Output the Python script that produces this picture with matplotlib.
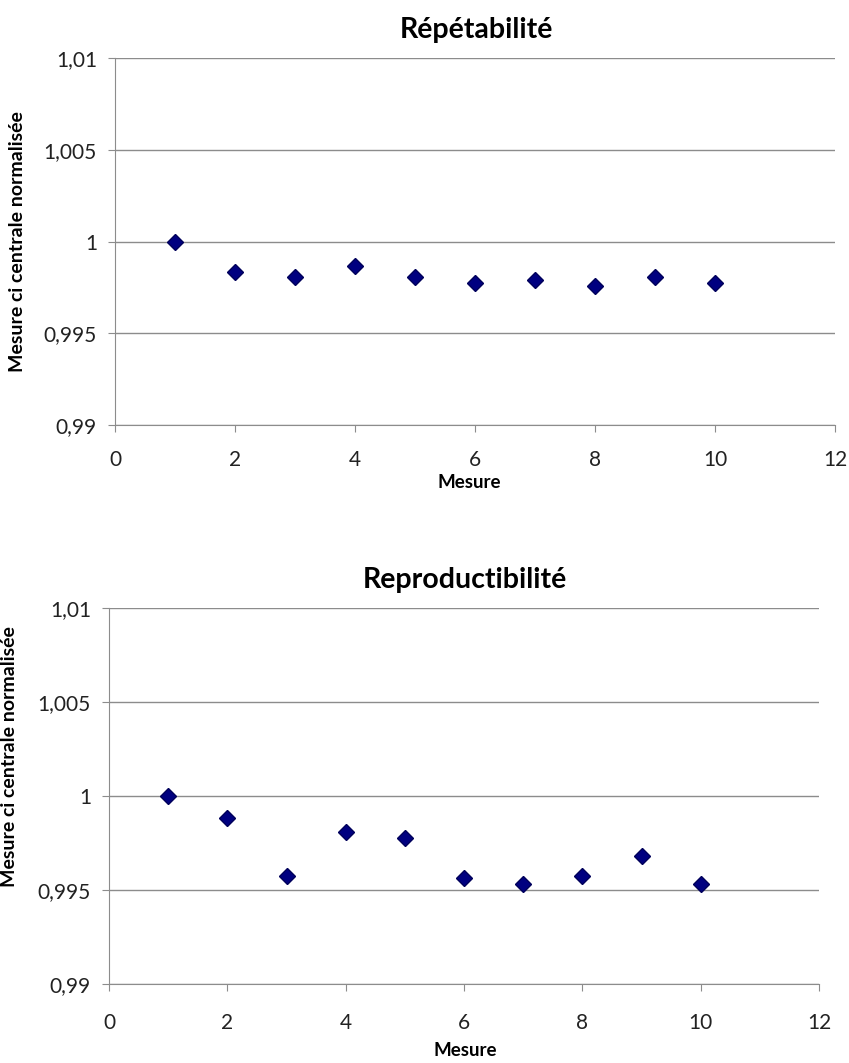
import matplotlib.pyplot as plt

# Data
mesure = [1, 2, 3, 4, 5, 6, 7, 8, 9, 10]
repetabilite = [1.0, 0.99833, 0.99805, 0.99869, 0.99805, 0.99776, 0.99791, 0.9976, 0.99805, 0.99776]
reproductibilite = [1.0, 0.99884, 0.99577, 0.99807, 0.99777, 0.99562, 0.9953, 0.99577, 0.99682, 0.9953]

x_ticks = [0, 2, 4, 6, 8, 10, 12]
y_ticks = [0.99, 0.995, 1.0, 1.005, 1.01]
y_labels = ["0,99", "0,995", "1", "1,005", "1,01"]

plt.rcParams['font.family'] = ['Lato', 'DejaVu Sans']

W, H = 849, 1063
fig = plt.figure(figsize=(W / 100, H / 100), dpi=100)


def panel(rect, values, title, title_x, xlabel_pos, ylabel_pos, xpad):
    left, top, right, bottom = rect
    ax = fig.add_axes([left / W, 1 - bottom / H, (right - left) / W, (bottom - top) / H])
    ax.plot(mesure, values, linestyle="none", marker="D", markersize=8.5,
            markerfacecolor="#000080", markeredgecolor="#00005a", zorder=3)
    ax.set_xlim(0, 12)
    ax.set_ylim(0.99, 1.01)
    ax.set_xticks(x_ticks)
    ax.set_yticks(y_ticks)
    ax.set_yticklabels(y_labels)
    ax.grid(axis="y", color="#8c8c8c", linewidth=1)
    ax.set_axisbelow(True)
    for s in ["top", "right"]:
        ax.spines[s].set_visible(False)
    for s in ["left", "bottom"]:
        ax.spines[s].set_color("#8c8c8c")
    ax.tick_params(colors="#8c8c8c", labelcolor="#222222", labelsize=15, length=5, direction="out")
    ax.tick_params(axis="x", pad=xpad)
    ax.tick_params(axis="y", pad=8)
    ax.set_ylabel("Mesure ci centrale normalisée", fontsize=14, fontweight="bold")
    ax.yaxis.set_label_coords((ylabel_pos[0] - left) / (right - left),
                              (bottom - ylabel_pos[1]) / (bottom - top))
    fig.text(title_x / W, 1 - (top - 28) / H, title, fontsize=20.5, fontweight="bold",
             ha="center", va="center")
    fig.text(xlabel_pos[0] / W, 1 - xlabel_pos[1] / H, "Mesure", fontsize=13.5,
             fontweight="bold", ha="center", va="center")
    return ax


panel((115, 58, 835, 425), repetabilite, "Répétabilité", 476, (469, 483), (26, 242), 13)
panel((109, 608, 819, 984), reproductibilite, "Reproductibilité", 465, (465, 1050), (18, 757), 16)

fig.savefig("out.png", dpi=100)
